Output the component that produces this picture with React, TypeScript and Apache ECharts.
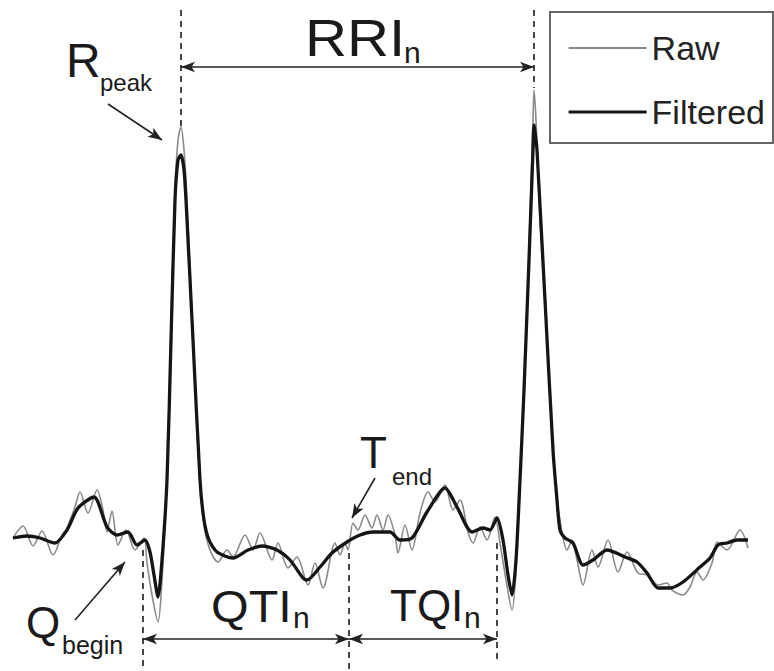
import React, { useEffect, useRef } from "react";
import * as echarts from "echarts";

// time (samples) , amplitude (arbitrary units)
const rawSignal: [number, number][] = [
  [13, 2], [23, 14], [33, -6], [42, 9], [53, -15], [62, 5], [67, 12], [75, 33], [80, 48], [88, 27],
  [97, 50], [103, 30], [107, 8], [112, 29], [118, -5], [126, 10], [135, -10], [144, 2], [147, -23],
  [152, -55], [158, -82], [162, -40], [167, 60], [171, 210], [175, 350], [178, 400], [181, 413],
  [184, 390], [187, 340], [193, 200], [200, 60], [204, 15], [210, -10], [218, -22], [227, -10],
  [233, -17], [245, 5], [253, -10], [260, 7], [272, -20], [278, -3], [288, -28], [297, -17],
  [308, -45], [315, -23], [323, -48], [335, -3], [340, -15], [345, -3], [348, -10], [353, 17],
  [358, 10], [365, 25], [372, 12], [377, 25], [383, 10], [388, 25], [395, 5], [398, -13], [405, 15],
  [412, -10], [420, 27], [428, 48], [435, 38], [445, 55], [453, 30], [460, 40], [468, 8], [473, -3],
  [480, 13], [487, 0], [495, 23], [500, -3], [506, -40], [512, -70], [516, -30], [520, 60],
  [524, 150], [529, 290], [533, 420], [534, 450], [536, 420], [540, 320], [545, 240], [553, 90],
  [557, 40], [560, 20], [563, 2], [567, -10], [572, 0], [577, -20], [583, -45], [592, -10],
  [598, -27], [608, 0], [618, -32], [627, -12], [638, -33], [648, -35], [658, -45], [667, -43],
  [672, -50], [683, -55], [690, -47], [697, -32], [703, -40], [712, -23], [717, -2], [727, -10],
  [740, 10], [748, -8],
];

const filteredSignal: [number, number][] = [
  [13, 2], [27, 4], [40, 2], [55, -3], [67, 10], [78, 32], [94, 43], [107, 13], [117, 5], [128, 8],
  [137, -5], [145, 0], [150, -12], [154, -35], [158, -57], [162, -20], [167, 60], [171, 200],
  [175, 340], [178, 380], [181, 385], [184, 370], [186, 340], [193, 200], [200, 60], [204, 20],
  [209, 0], [217, -12], [233, -18], [248, -10], [262, -6], [277, -10], [290, -20], [303, -38],
  [307, -40], [320, -27], [332, -13], [347, -2], [360, 5], [373, 8], [390, 8], [400, 0], [412, 2],
  [427, 28], [445, 52], [457, 33], [472, 8], [483, 12], [490, 10], [497, 22], [503, 0], [508, -35],
  [512, -55], [516, -20], [520, 60], [524, 150], [529, 280], [533, 390], [534, 415], [536, 400],
  [537, 390], [545, 240], [553, 90], [557, 40], [560, 10], [565, 2], [573, -3], [583, -25],
  [593, -20], [607, -10], [625, -17], [637, -22], [647, -33], [658, -48], [670, -48], [683, -42],
  [700, -27], [710, -18], [718, -5], [727, -3], [737, 0], [748, 0],
];

const seriesNames = ["Raw", "Filtered"];

// annotation event times
const rPeakTimes = [181, 534];
const rPeakDashEnds = [413, 452];
const qBeginTimes = [143, 497];
const qBeginDashEnds = [-131, -120];
const qBeginDashStarts = [-10, -3];
const tEndTime = 349;
const tEndDashStart = -13;
const dashTop = 530;
const rriLevel = 473;
const intervalLevel = -99;

const FONT = "Liberation Sans, Arial, Helvetica, sans-serif";
const INK = "#1a1a1a";

function txt(text: string, x: number, baseline: number, size: number, scaleX = 1) {
  return {
    type: "text",
    x,
    y: baseline - 0.3465 * size,
    scaleX,
    silent: true,
    style: {
      text,
      fill: INK,
      font: `${size}px ${FONT}`,
      fontSize: size,
      fontFamily: FONT,
      align: "left",
      verticalAlign: "middle",
      textAlign: "left",
      textVerticalAlign: "middle",
    },
  };
}

export default function App() {
  const ref = useRef<HTMLDivElement>(null);
  useEffect(() => {
    if (!ref.current) return;
    const chart = echarts.init(ref.current, null, { renderer: "svg" });

    const dashStyle = { type: [6, 5], width: 1.8, color: "#333" };
    const arrowStyle = { type: "solid", width: 1.6, color: "#222" };

    const markData: any[] = [];
    rPeakTimes.forEach((t, i) => {
      markData.push([
        { coord: [t, dashTop], symbol: "none", lineStyle: dashStyle },
        { coord: [t, rPeakDashEnds[i]], symbol: "none" },
      ]);
    });
    qBeginTimes.forEach((t, i) => {
      markData.push([
        { coord: [t, qBeginDashStarts[i]], symbol: "none", lineStyle: dashStyle },
        { coord: [t, qBeginDashEnds[i]], symbol: "none" },
      ]);
    });
    markData.push([
      { coord: [tEndTime, tEndDashStart], symbol: "none", lineStyle: dashStyle },
      { coord: [tEndTime, -131], symbol: "none" },
    ]);
    // double arrows
    markData.push([
      { coord: [rPeakTimes[0], rriLevel], symbol: "arrow", lineStyle: arrowStyle },
      { coord: [rPeakTimes[1], rriLevel], symbol: "arrow" },
    ]);
    markData.push([
      { coord: [qBeginTimes[0], intervalLevel], symbol: "arrow", lineStyle: arrowStyle },
      { coord: [tEndTime, intervalLevel], symbol: "arrow" },
    ]);
    markData.push([
      { coord: [tEndTime, intervalLevel], symbol: "arrow", lineStyle: arrowStyle },
      { coord: [qBeginTimes[1], intervalLevel], symbol: "arrow" },
    ]);
    // pointer arrows
    markData.push([
      { coord: [108, 436], symbol: "none", lineStyle: arrowStyle },
      { coord: [162, 400], symbol: "arrow" },
    ]);
    markData.push([
      { coord: [75, -80], symbol: "none", lineStyle: arrowStyle },
      { coord: [125, -22], symbol: "arrow" },
    ]);
    markData.push([
      { coord: [375, 62], symbol: "none", lineStyle: arrowStyle },
      { coord: [352, 22], symbol: "arrow" },
    ]);

    chart.setOption({
      animation: false,
      backgroundColor: "#ffffff",
      grid: { left: 0, right: 0, top: 0, bottom: 0, containLabel: false },
      xAxis: { type: "value", min: 0, max: 774, show: false },
      yAxis: { type: "value", min: -131, max: 540, show: false },
      legend: {
        data: [
          { name: seriesNames[0], itemStyle: { opacity: 0 }, lineStyle: { width: 1.8, color: "#8a8a8a" } },
          { name: seriesNames[1], itemStyle: { opacity: 0 }, lineStyle: { width: 3.2, color: "#151515" } },
        ],
        orient: "vertical",
        left: 550,
        top: 12,
        padding: [16, 8, 11, 17],
        itemGap: 24,
        itemWidth: 78,
        itemHeight: 20,
        itemStyle: { opacity: 0 },
        borderColor: "#666",
        borderWidth: 2,
        borderRadius: 0,
        textStyle: { fontSize: 34, lineHeight: 40, color: "#222", fontFamily: FONT },
      },
      series: [
        {
          name: seriesNames[0],
          type: "line",
          data: rawSignal,
          symbol: "none",
          smooth: 0.3,
          lineStyle: { color: "#8a8a8a", width: 1.6 },
          itemStyle: { color: "#8a8a8a" },
          z: 2,
        },
        {
          name: seriesNames[1],
          type: "line",
          data: filteredSignal,
          symbol: "none",
          smooth: 0.25,
          lineStyle: { color: "#151515", width: 3.3 },
          itemStyle: { color: "#151515" },
          z: 3,
        },
        {
          name: "annotations",
          type: "line",
          data: [],
          markLine: {
            silent: true,
            animation: false,
            symbolSize: [8, 14],
            label: { show: false },
            lineStyle: arrowStyle,
            data: markData,
          },
        },
      ],
      graphic: [
        txt("RRI", 305, 56, 52, 1.12),
        txt("n", 404, 63, 30),
        txt("R", 66, 77, 48),
        txt("peak", 100, 91, 24),
        txt("T", 360, 468, 44),
        txt("end", 392, 485, 24),
        txt("QTI", 211, 622, 44, 1.1),
        txt("n", 293, 628, 30),
        txt("TQI", 390, 621, 44),
        txt("n", 464, 628, 30),
        txt("Q", 26, 638, 44),
        txt("begin", 62, 654, 25),
      ],
    });
    return () => chart.dispose();
  }, []);
  return (
    <div
      ref={ref}
      style={{ position: "fixed", left: 0, top: 0, width: 774, height: 671, background: "#fff" }}
    />
  );
}
